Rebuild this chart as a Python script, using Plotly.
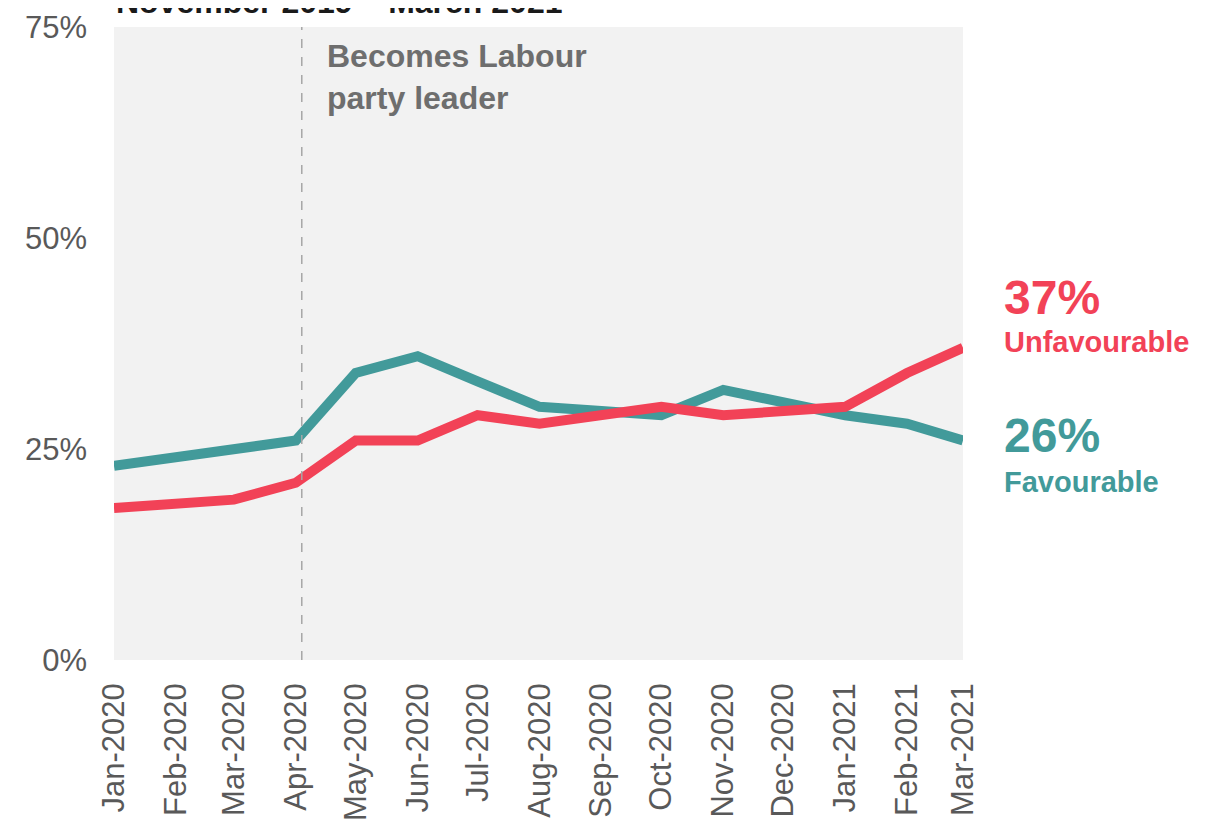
import plotly.graph_objects as go

months = ["2020-01-01", "2020-02-01", "2020-03-01", "2020-04-01", "2020-05-01", "2020-06-01",
          "2020-07-01", "2020-08-01", "2020-09-01", "2020-10-01", "2020-11-01", "2020-12-01",
          "2021-01-01", "2021-02-01", "2021-03-01"]
favourable = [23, 24, 25, 26, 34, 36, 33, 30, 29.5, 29, 32, 30.5, 29, 28, 26]
unfavourable = [18, 18.5, 19, 21, 26, 26, 29, 28, 29, 30, 29, 29.5, 30, 34, 37]
y_ticks = [0, 25, 50, 75]
y_tick_labels = ["0%", "25%", "50%", "75%"]
leader_date = "2020-04-04"

RED = "#F24257"
TEAL = "#429A9A"
GREY = "#6E6E6E"
FONT = "Liberation Sans, Arial, sans-serif"

fig = go.Figure()
fig.add_trace(go.Scatter(x=months, y=favourable, mode="lines",
                         line=dict(color=TEAL, width=10), name="Favourable",
                         hoverinfo="skip"))
fig.add_trace(go.Scatter(x=months, y=unfavourable, mode="lines",
                         line=dict(color=RED, width=10), name="Unfavourable",
                         hoverinfo="skip"))

fig.add_shape(type="line", x0=leader_date, x1=leader_date, xref="x", yref="paper",
              y0=0, y1=1, line=dict(color="#A6A6A6", width=1.5, dash="dash"))

fig.add_annotation(x=leader_date, y=1, xref="x", yref="paper", xanchor="left", yanchor="top",
                   xshift=23, yshift=-9, align="left", showarrow=False,
                   text="<b>Becomes Labour<br>party leader</b>",
                   font=dict(family=FONT, size=32, color=GREY))

fig.add_annotation(x=1, y=unfavourable[-1], xref="paper", yref="y", xanchor="left", yanchor="middle",
                   xshift=39, yshift=50, showarrow=False, align="left",
                   text="<b>37%</b>", font=dict(family=FONT, size=48, color=RED))
fig.add_annotation(x=1, y=unfavourable[-1], xref="paper", yref="y", xanchor="left", yanchor="middle",
                   xshift=39, yshift=6, showarrow=False, align="left",
                   text="<b>Unfavourable</b>", font=dict(family=FONT, size=29, color=RED))
fig.add_annotation(x=1, y=favourable[-1], xref="paper", yref="y", xanchor="left", yanchor="middle",
                   xshift=39, yshift=5, showarrow=False, align="left",
                   text="<b>26%</b>", font=dict(family=FONT, size=48, color=TEAL))
fig.add_annotation(x=1, y=favourable[-1], xref="paper", yref="y", xanchor="left", yanchor="middle",
                   xshift=39, yshift=-41, showarrow=False, align="left",
                   text="<b>Favourable</b>", font=dict(family=FONT, size=29, color=TEAL))

fig.add_annotation(x=0, y=1, xref="paper", yref="paper", xanchor="left", yanchor="bottom",
                   yshift=5, showarrow=False, align="left",
                   text="<b>November 2019 – March 2021</b>",
                   font=dict(family=FONT, size=32, color="#1A1A1A"))

fig.update_layout(
    width=1208, height=812,
    margin=dict(l=106, r=253, t=19, b=160),
    paper_bgcolor="white", plot_bgcolor="#F2F2F2",
    showlegend=False,
    font=dict(family=FONT, size=31, color="#595959"),
)
fig.update_xaxes(type="date", range=[months[0], months[-1]], tickvals=months,
                 tickformat="%b-%Y", tickangle=-90, showgrid=False, zeroline=False,
                 ticks="", ticklabelstandoff=16, automargin=False,
                 tickfont=dict(family=FONT, size=31, color="#595959"))
fig.update_yaxes(range=[0, 75], tickvals=y_ticks, ticktext=y_tick_labels, showgrid=False,
                 zeroline=False, ticks="", ticklabelstandoff=26, automargin=False,
                 tickfont=dict(family=FONT, size=31, color="#595959"))

fig.write_html("out.html")
